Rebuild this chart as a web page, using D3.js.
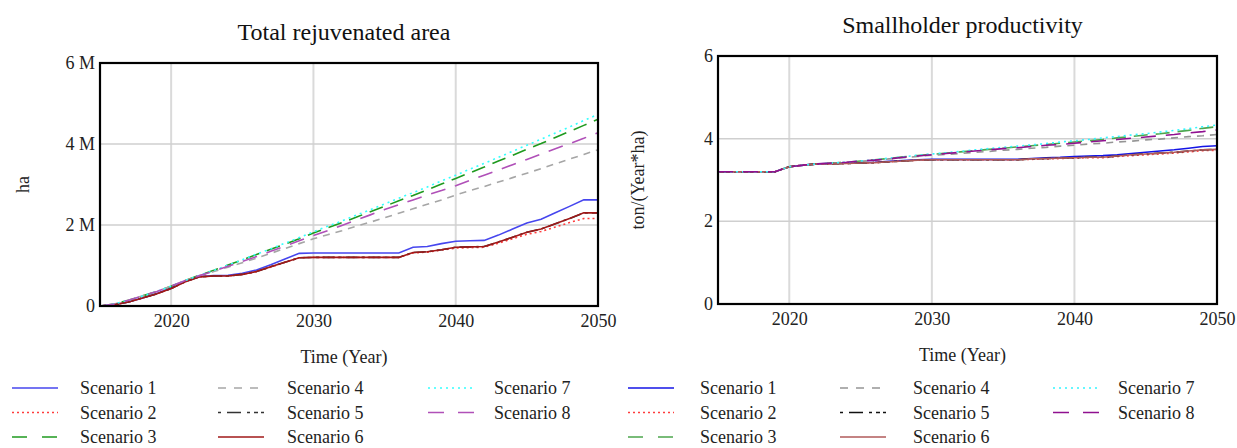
<!DOCTYPE html>
<html>
<head>
<meta charset="utf-8">
<script src="https://cdn.jsdelivr.net/npm/d3@7"></script>
<style>
  html, body { margin: 0; padding: 0; background: #fff; }
  svg { display: block; font-family: "Liberation Serif", "Times New Roman", serif; }
  .title { font-size: 24px; fill: #111; }
  .axis text { font-size: 18px; fill: #222; font-family: "Liberation Serif", serif; }
  .axis path { display: none; }
  .axlabel { font-size: 18px; fill: #222; }
  .legend text { font-size: 18px; fill: #222; }
</style>
</head>
<body>
<svg id="chart" width="1237" height="448"></svg>
<script>
const years = [2015, 2016, 2017, 2018, 2019, 2020, 2021, 2022, 2023, 2024, 2025, 2026,
  2027, 2028, 2029, 2030, 2031, 2032, 2033, 2034, 2035, 2036, 2037, 2038,
  2039, 2040, 2041, 2042, 2043, 2044, 2045, 2046, 2047, 2048, 2049, 2050]

const scenarios = ["Scenario 1", "Scenario 2", "Scenario 3", "Scenario 4",
  "Scenario 5", "Scenario 6", "Scenario 7", "Scenario 8"]

// Total rejuvenated area, million ha
const areaS1 = [0, 0.03, 0.10, 0.20, 0.31, 0.45, 0.62, 0.73, 0.75, 0.76, 0.81, 0.89,
  1.02, 1.16, 1.30, 1.31, 1.31, 1.31, 1.31, 1.31, 1.31, 1.31, 1.45, 1.47,
  1.54, 1.60, 1.61, 1.62, 1.75, 1.90, 2.05, 2.14, 2.30, 2.46, 2.62, 2.62]
const areaS2 = [0, 0.03, 0.10, 0.20, 0.30, 0.43, 0.60, 0.72, 0.74, 0.74, 0.78, 0.85,
  0.96, 1.08, 1.19, 1.20, 1.20, 1.20, 1.20, 1.20, 1.20, 1.20, 1.31, 1.33,
  1.38, 1.43, 1.44, 1.45, 1.55, 1.66, 1.77, 1.84, 1.95, 2.06, 2.16, 2.16]
const areaS3 = [0, 0.05, 0.14, 0.25, 0.36, 0.49, 0.63, 0.76, 0.88, 1.01, 1.14, 1.27,
  1.40, 1.53, 1.66, 1.80, 1.93, 2.06, 2.19, 2.33, 2.46, 2.60, 2.73, 2.87,
  3.01, 3.15, 3.29, 3.43, 3.58, 3.72, 3.87, 4.01, 4.16, 4.31, 4.46, 4.61]
const areaS4 = [0, 0.05, 0.14, 0.25, 0.36, 0.49, 0.63, 0.75, 0.85, 0.96, 1.07, 1.18,
  1.30, 1.42, 1.54, 1.66, 1.76, 1.86, 1.97, 2.07, 2.18, 2.29, 2.40, 2.51,
  2.62, 2.74, 2.85, 2.95, 3.06, 3.17, 3.28, 3.39, 3.51, 3.63, 3.74, 3.86]
const areaS5 = [0, 0.03, 0.10, 0.20, 0.30, 0.43, 0.60, 0.72, 0.74, 0.74, 0.78, 0.85,
  0.97, 1.08, 1.19, 1.20, 1.20, 1.20, 1.20, 1.20, 1.20, 1.20, 1.32, 1.34,
  1.39, 1.45, 1.46, 1.47, 1.58, 1.70, 1.82, 1.90, 2.03, 2.16, 2.30, 2.30]
const areaS6 = [0, 0.03, 0.10, 0.20, 0.30, 0.43, 0.60, 0.72, 0.74, 0.74, 0.78, 0.85,
  0.97, 1.08, 1.19, 1.20, 1.20, 1.20, 1.20, 1.20, 1.20, 1.20, 1.32, 1.34,
  1.39, 1.45, 1.46, 1.47, 1.58, 1.70, 1.82, 1.90, 2.03, 2.16, 2.30, 2.30]
const areaS7 = [0, 0.05, 0.14, 0.25, 0.36, 0.49, 0.63, 0.76, 0.88, 1.01, 1.14, 1.28,
  1.41, 1.55, 1.69, 1.83, 1.97, 2.10, 2.24, 2.38, 2.52, 2.66, 2.80, 2.94,
  3.09, 3.23, 3.38, 3.52, 3.67, 3.82, 3.97, 4.12, 4.27, 4.42, 4.58, 4.73]
const areaS8 = [0, 0.05, 0.14, 0.25, 0.36, 0.49, 0.63, 0.75, 0.86, 0.98, 1.10, 1.22,
  1.35, 1.48, 1.61, 1.74, 1.86, 1.99, 2.12, 2.25, 2.38, 2.50, 2.62, 2.74,
  2.85, 2.97, 3.10, 3.23, 3.36, 3.49, 3.62, 3.75, 3.88, 4.01, 4.14, 4.28]

// Smallholder productivity, ton/(Year*ha)
const prodS1 = [3.20, 3.20, 3.20, 3.20, 3.20, 3.32, 3.36, 3.39, 3.40, 3.41, 3.42, 3.43,
  3.45, 3.47, 3.49, 3.50, 3.50, 3.50, 3.50, 3.50, 3.50, 3.50, 3.52, 3.54,
  3.55, 3.57, 3.58, 3.59, 3.61, 3.64, 3.67, 3.70, 3.73, 3.77, 3.81, 3.83]
const prodS2 = [3.20, 3.20, 3.20, 3.20, 3.20, 3.32, 3.36, 3.39, 3.39, 3.40, 3.41, 3.42,
  3.44, 3.46, 3.48, 3.49, 3.49, 3.49, 3.49, 3.49, 3.49, 3.49, 3.50, 3.51,
  3.52, 3.53, 3.54, 3.54, 3.57, 3.59, 3.61, 3.63, 3.65, 3.68, 3.71, 3.72]
const prodS3 = [3.20, 3.20, 3.20, 3.20, 3.20, 3.32, 3.36, 3.39, 3.41, 3.43, 3.46, 3.49,
  3.52, 3.56, 3.59, 3.62, 3.65, 3.68, 3.71, 3.74, 3.77, 3.80, 3.83, 3.86,
  3.89, 3.92, 3.95, 3.98, 4.02, 4.05, 4.09, 4.12, 4.16, 4.20, 4.25, 4.29]
const prodS4 = [3.20, 3.20, 3.20, 3.20, 3.20, 3.32, 3.36, 3.39, 3.41, 3.43, 3.45, 3.48,
  3.51, 3.54, 3.57, 3.60, 3.62, 3.64, 3.67, 3.69, 3.72, 3.74, 3.77, 3.79,
  3.82, 3.84, 3.87, 3.89, 3.92, 3.94, 3.97, 3.99, 4.02, 4.05, 4.07, 4.10]
const prodS5 = [3.20, 3.20, 3.20, 3.20, 3.20, 3.32, 3.36, 3.39, 3.39, 3.40, 3.41, 3.42,
  3.44, 3.46, 3.48, 3.49, 3.49, 3.49, 3.49, 3.49, 3.49, 3.49, 3.51, 3.52,
  3.53, 3.54, 3.55, 3.55, 3.58, 3.61, 3.63, 3.65, 3.67, 3.70, 3.73, 3.74]
const prodS6 = [3.20, 3.20, 3.20, 3.20, 3.20, 3.32, 3.36, 3.39, 3.39, 3.40, 3.41, 3.42,
  3.44, 3.46, 3.48, 3.49, 3.49, 3.49, 3.49, 3.49, 3.49, 3.49, 3.51, 3.52,
  3.53, 3.54, 3.55, 3.55, 3.58, 3.61, 3.63, 3.65, 3.67, 3.70, 3.73, 3.74]
const prodS7 = [3.20, 3.20, 3.20, 3.20, 3.20, 3.32, 3.36, 3.39, 3.41, 3.43, 3.46, 3.49,
  3.53, 3.56, 3.60, 3.63, 3.66, 3.69, 3.73, 3.76, 3.79, 3.82, 3.85, 3.88,
  3.92, 3.95, 3.98, 4.02, 4.05, 4.09, 4.12, 4.16, 4.20, 4.24, 4.29, 4.33]
const prodS8 = [3.20, 3.20, 3.20, 3.20, 3.20, 3.32, 3.36, 3.39, 3.41, 3.43, 3.46, 3.48,
  3.51, 3.55, 3.58, 3.61, 3.64, 3.67, 3.70, 3.73, 3.76, 3.78, 3.81, 3.84,
  3.86, 3.89, 3.92, 3.95, 3.98, 4.01, 4.04, 4.07, 4.10, 4.14, 4.17, 4.21]

const areaTicks = [0, 2, 4, 6]
const areaTickLabels = ["0", "2 M", "4 M", "6 M"]
const prodTicks = [0, 2, 4, 6]
const yearTicks = [2020, 2030, 2040, 2050]

const dashes = [null, "2,3", "14,8", "7,6", "12,4,3,4", null, "2,4", "15,10"]
const legendDashes = [null, "2,3", "15,15", "8,8", "3,6,14,6,3,4,4", null, "2,4", "16,14"]
const leftColors = ["#4646ee", "#ff3c3c", "#1f9a1f", "#a6a6a6", "#333333", "#a01818", "#33ffff", "#b050b8"]
const rightColors = ["#1414e6", "#ff3c3c", "#4ea64e", "#959595", "#111111", "#b05a5a", "#33f5ff", "#901090"]

const svg = d3.select("#chart")

function drawPanel(opts) {
  const { left, right, top, bottom, title, titleY, yLabel, yLabelX,
    series, colors, yTicks, yFormat, legendX, legendLineX } = opts

  const x = d3.scaleLinear().domain([2015, 2050]).range([left, right])
  const y = d3.scaleLinear().domain([0, 6]).range([bottom, top])
  const g = svg.append("g")

  // grid
  g.selectAll(".vgrid")
    .data(yearTicks.filter((t) => t < 2050))
    .enter()
    .append("line")
    .attr("x1", (d) => x(d)).attr("x2", (d) => x(d))
    .attr("y1", top).attr("y2", bottom)
    .attr("stroke", "#dadada").attr("stroke-width", 2)

  g.selectAll(".hgrid")
    .data(yTicks.filter((t) => t > 0 && t < 6))
    .enter()
    .append("line")
    .attr("x1", left).attr("x2", right)
    .attr("y1", (d) => y(d)).attr("y2", (d) => y(d))
    .attr("stroke", "#cfcfcf").attr("stroke-width", 1.5)

  // lines
  const line = d3.line()
    .x((d, i) => x(years[i]))
    .y((d) => y(d))

  series.forEach((s, i) => {
    g.append("path")
      .datum(s)
      .attr("fill", "none")
      .attr("stroke", colors[i])
      .attr("stroke-width", 1.6)
      .attr("stroke-dasharray", dashes[i])
      .attr("d", line)
  })

  // frame
  g.append("rect")
    .attr("x", left).attr("y", top)
    .attr("width", right - left).attr("height", bottom - top)
    .attr("fill", "none").attr("stroke", "#000").attr("stroke-width", 2.2)

  g.append("g")
    .attr("class", "axis")
    .attr("transform", `translate(${left},0)`)
    .call(d3.axisLeft(y).tickValues(yTicks).tickSize(0).tickPadding(5).tickFormat(yFormat))
    .selectAll("text").attr("dy", "0.3em")

  g.append("g")
    .attr("class", "axis")
    .attr("transform", `translate(0,${bottom})`)
    .call(d3.axisBottom(x).tickValues(yearTicks).tickSize(0).tickPadding(8).tickFormat(d3.format("d")))

  g.append("text")
    .attr("class", "title")
    .attr("x", (left + right) / 2 - 5)
    .attr("y", titleY)
    .attr("text-anchor", "middle")
    .text(title)

  g.append("text")
    .attr("class", "axlabel")
    .attr("x", (left + right) / 2 - 5)
    .attr("y", bottom + 57)
    .attr("text-anchor", "middle")
    .text("Time (Year)")

  g.append("text")
    .attr("class", "axlabel")
    .attr("transform", `translate(${yLabelX},${(top + bottom) / 2}) rotate(-90)`)
    .attr("text-anchor", "middle")
    .attr("font-size", yLabel.length > 3 ? 15 : 17)
    .text(yLabel)

  // legend
  const lg = svg.append("g").attr("class", "legend")
  scenarios.forEach((name, i) => {
    const col = Math.floor(i / 3)
    const row = i % 3
    const ly = 388 + row * 24.5
    lg.append("line")
      .attr("x1", legendLineX[col]).attr("x2", legendLineX[col] + 46)
      .attr("y1", ly).attr("y2", ly)
      .attr("stroke", colors[i]).attr("stroke-width", 1.6)
      .attr("stroke-dasharray", legendDashes[i])
    lg.append("text")
      .attr("x", legendX[col])
      .attr("y", ly + 6)
      .text(name)
  })
}

drawPanel({
  left: 100, right: 598, top: 63, bottom: 306,
  title: "Total rejuvenated area", titleY: 40,
  yLabel: "ha", yLabelX: 29,
  series: [areaS1, areaS2, areaS3, areaS4, areaS5, areaS6, areaS7, areaS8],
  colors: leftColors,
  yTicks: areaTicks,
  yFormat: (d) => areaTickLabels[areaTicks.indexOf(d)],
  legendX: [80, 287, 494],
  legendLineX: [12, 218, 428]
})

drawPanel({
  left: 718, right: 1217, top: 56, bottom: 304,
  title: "Smallholder productivity", titleY: 33,
  yLabel: "ton/(Year*ha)", yLabelX: 644,
  series: [prodS1, prodS2, prodS3, prodS4, prodS5, prodS6, prodS7, prodS8],
  colors: rightColors,
  yTicks: prodTicks,
  yFormat: d3.format("d"),
  legendX: [700, 913, 1118],
  legendLineX: [628, 840, 1053]
})
</script>
</body>
</html>
